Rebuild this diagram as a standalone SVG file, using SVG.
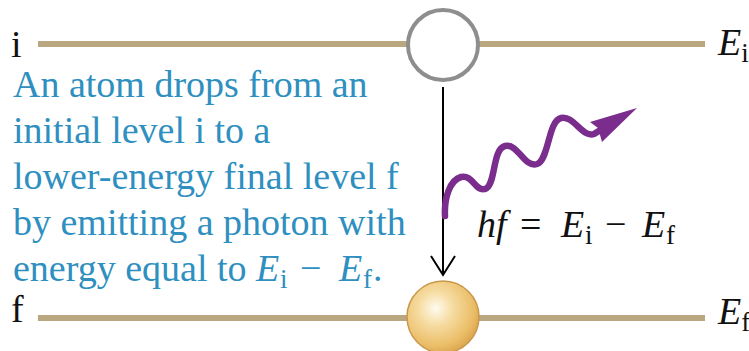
<svg xmlns="http://www.w3.org/2000/svg" width="749" height="351" viewBox="0 0 749 351">
  <defs>
    <style>
      text { font-family: "Liberation Serif", "Times New Roman", serif; }
      .level { stroke: #BBA77F; stroke-width: 6; fill: none; }
      .lbl { font-size: 38px; fill: #111; }
      .cap { font-size: 38px; fill: #2E8FC0; }
      .it { font-style: italic; }
      .sub { font-size: 27px; font-style: normal; }
      .eq { font-size: 38px; fill: #111; }
    </style>
    <radialGradient id="ballGrad" cx="0.4" cy="0.38" r="0.65">
      <stop offset="0" stop-color="#FFFBF0"/>
      <stop offset="0.35" stop-color="#F6DDA4"/>
      <stop offset="0.8" stop-color="#EBBE68"/>
      <stop offset="1" stop-color="#DDA650"/>
    </radialGradient>
  </defs>

  <g id="level-i">
    <line class="level" x1="38" y1="44" x2="705" y2="44"/>
    <text class="lbl" x="11" y="57">i</text>
    <text class="lbl" x="718" y="55"><tspan class="it">E</tspan><tspan class="sub" dy="7">i</tspan></text>
  </g>

  <g id="level-f">
    <line class="level" x1="38" y1="318" x2="705" y2="318"/>
    <text class="lbl" x="11" y="322">f</text>
    <text class="lbl" x="718" y="324"><tspan class="it">E</tspan><tspan class="sub" dy="7">f</tspan></text>
  </g>

  <g id="caption" class="cap">
    <text x="13" y="97">An atom drops from an</text>
    <text x="13" y="143">initial level i to a</text>
    <text x="13" y="189">lower-energy final level f</text>
    <text x="13" y="235">by emitting a photon with</text>
    <text x="13" y="281">energy equal to <tspan class="it" x="256">E</tspan><tspan class="sub" x="280" y="288">i</tspan><tspan x="300" y="281">−</tspan><tspan class="it" x="339">E</tspan><tspan class="sub" x="363" y="288">f</tspan><tspan x="373" y="281">.</tspan></text>
  </g>

  <g id="connectors">
    <line x1="443" y1="87" x2="443" y2="273" stroke="#000" stroke-width="2"/>
    <polyline points="431,256 443,275 455,256" fill="none" stroke="#000" stroke-width="2"/>
  </g>

  <g id="atom-initial">
    <circle cx="443" cy="45" r="35" fill="#fff" stroke="#8E8E8E" stroke-width="4"/>
  </g>

  <g id="atom-final">
    <circle cx="443" cy="317" r="36" fill="url(#ballGrad)" stroke="#C9984A" stroke-width="1.5"/>
  </g>

  <g id="photon">
    <path d="M445,216 C444,198 450,180 461,177 C473,174 475,192 485,189 C496,186 492,149 505,146 C518,143 524,168 537,164 C549,160 548,121 561,118 C574,115 582,138 594,134 L602,129" fill="none" stroke="#7B2D8E" stroke-width="6.5" stroke-linecap="round"/>
    <polygon points="637,108 590,122 598,128 602,142" fill="#7B2D8E"/>
  </g>

  <g id="equation">
    <text class="eq" x="477" y="237"><tspan class="it">hf</tspan><tspan x="520">=</tspan><tspan class="it" x="561">E</tspan><tspan class="sub" x="585" y="244">i</tspan><tspan x="605" y="237">−</tspan><tspan class="it" x="642">E</tspan><tspan class="sub" x="666" y="244">f</tspan></text>
  </g>
</svg>
